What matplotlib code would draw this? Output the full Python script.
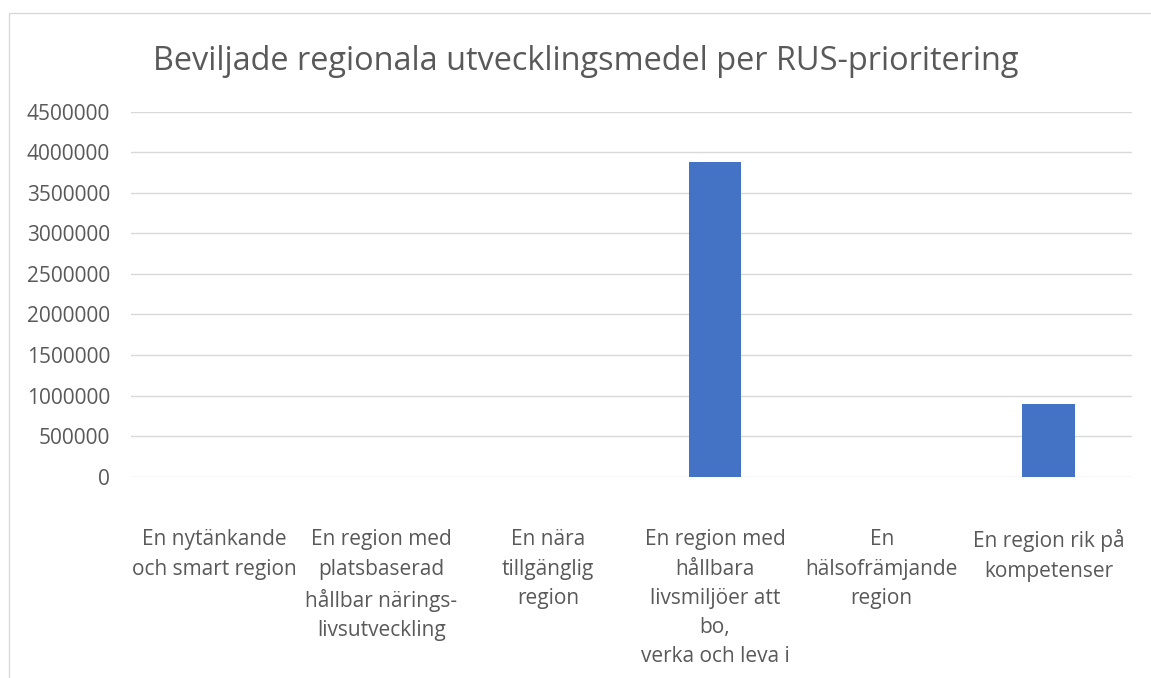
import matplotlib
matplotlib.use("Agg")
import matplotlib.pyplot as plt
from matplotlib.patches import Rectangle

title = "Beviljade regionala utvecklingsmedel per RUS-prioritering"
categories = [
    "En nytänkande\noch smart region",
    "En region med\nplatsbaserad\nhållbar närings-\nlivsutveckling",
    "En nära\ntillgänglig\nregion",
    "En region med\nhållbara\nlivsmiljöer att\nbo,\nverka och leva i",
    "En\nhälsofrämjande\nregion",
    "En region rik på\nkompetenser",
]
values = [0, 0, 0, 3880000, 0, 900000]
yticks = [0, 500000, 1000000, 1500000, 2000000, 2500000, 3000000, 3500000, 4000000, 4500000]

W, H = 1151, 678
plt.rcParams['font.family'] = ['Open Sans', 'DejaVu Sans']
fig = plt.figure(figsize=(W / 100, H / 100), dpi=100)
fig.patch.set_facecolor('white')

# chart border (extends beyond the cropped image)
fig.patches.append(Rectangle((9 / W, -0.1), 1.2, 1 - 13 / H + 0.1, transform=fig.transFigure,
                             fill=False, edgecolor='#d9d9d9', linewidth=1.0))

left, right = 131 / W, 1132 / W
bottom, top = 1 - 476.7 / H, 1 - 111.7 / H
ax = fig.add_axes([left, bottom, right - left, top - bottom])
ax.set_facecolor('none')

x = list(range(len(categories)))
ax.bar(x, values, width=0.313, color='#4472C4', zorder=3)
ax.set_xlim(-0.5, len(categories) - 0.5)
ax.set_ylim(0, 4500000)
ax.set_yticks(yticks)
ax.set_yticklabels([str(v) for v in yticks])
ax.set_xticks(x)
ax.set_xticklabels(categories, linespacing=1.51)
ax.grid(axis='y', color='#d9d9d9', linewidth=1.0, zorder=0)
for s in ax.spines.values():
    s.set_visible(False)
ax.tick_params(axis='both', length=0, colors='#595959', labelsize=15)
ax.tick_params(axis='y', pad=15)
ax.tick_params(axis='x', pad=38)

fig.text(585.5 / W, 1 - 62 / H, title, ha='center', va='center', fontsize=23.4, color='#595959')

fig.savefig('out.png', dpi=100, facecolor='white')
